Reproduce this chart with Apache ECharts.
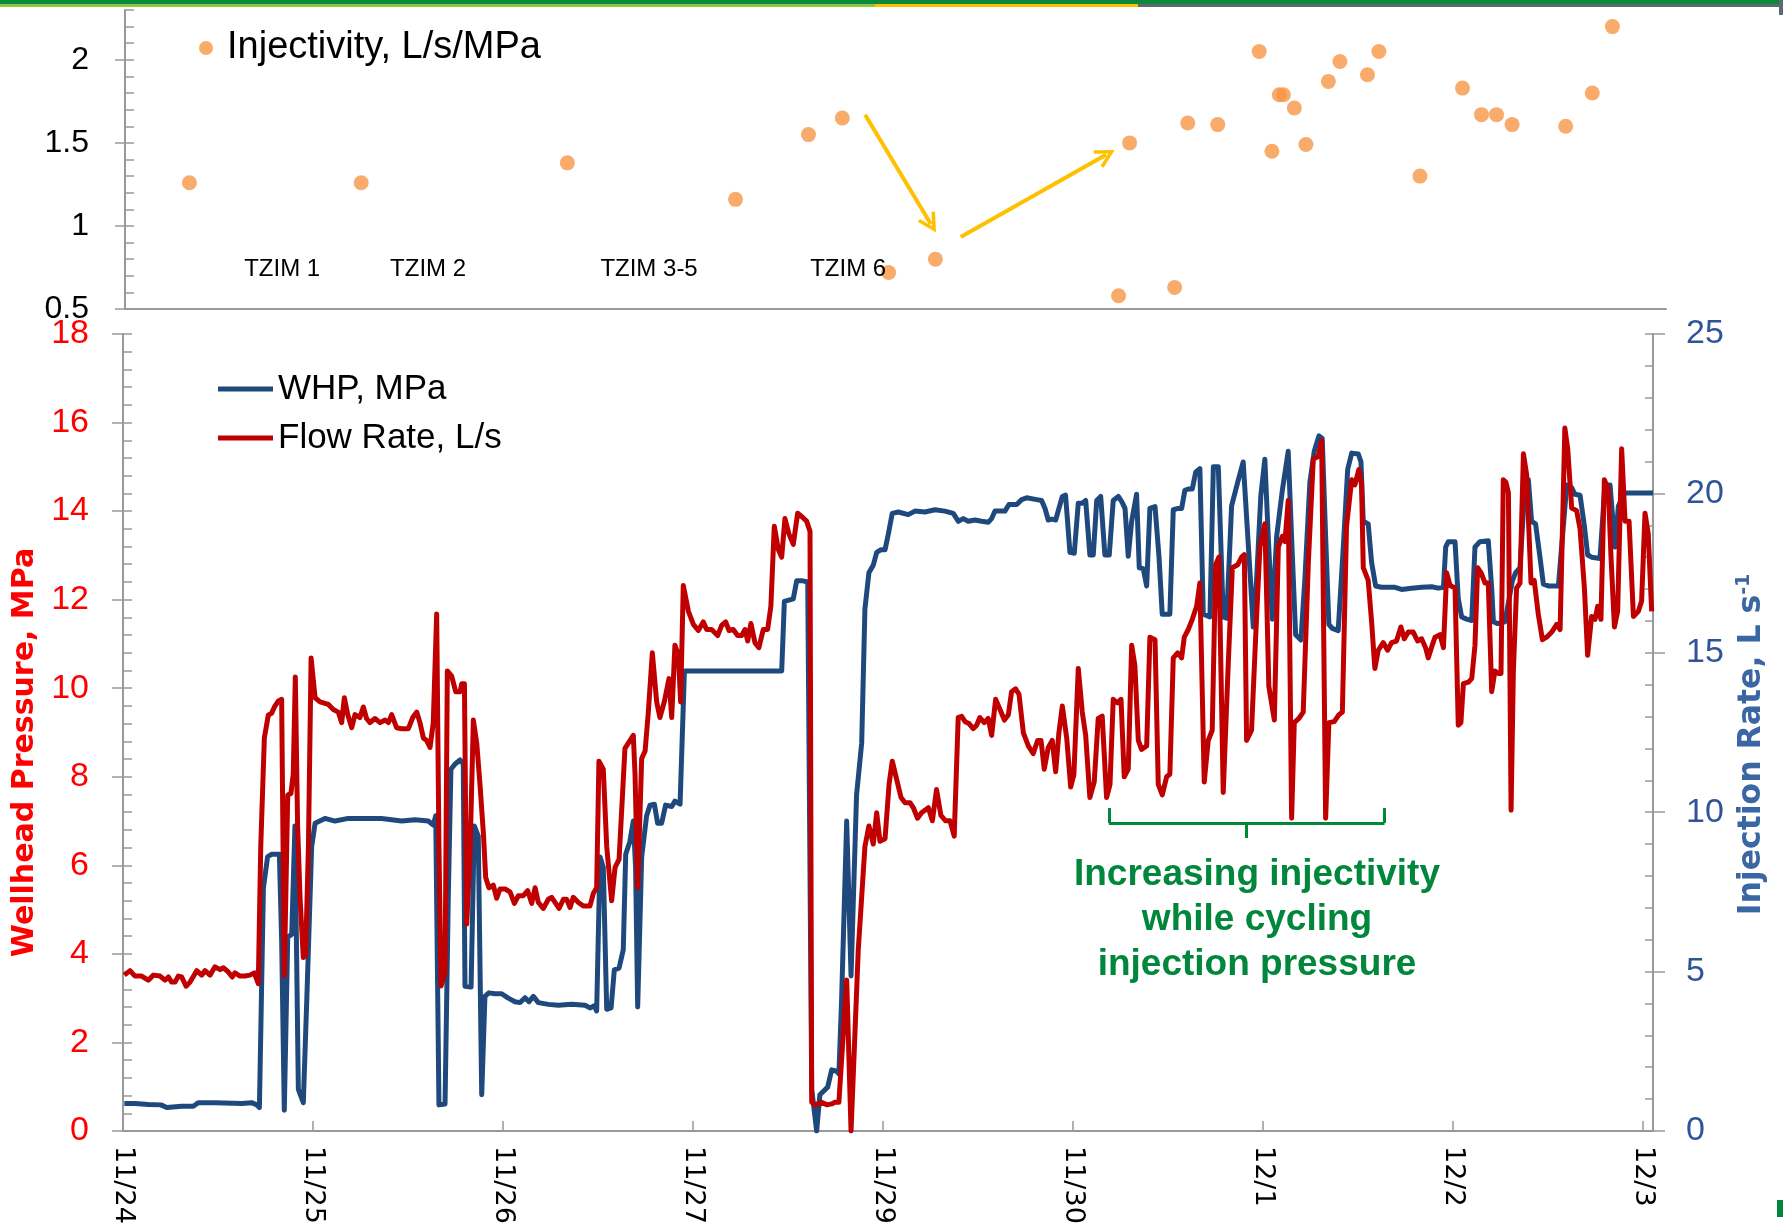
<!DOCTYPE html>
<html>
<head>
<meta charset="utf-8">
<title>Injectivity, WHP and flow rate</title>
<script src="https://cdn.jsdelivr.net/npm/echarts@6/dist/echarts.min.js"></script>
<style>
  html, body { margin: 0; padding: 0; background: #fff; }
  #chart { width: 1783px; height: 1226px; }
</style>
</head>
<body>
<div id="chart"></div>
<script>
// Date labels of the bottom axis (11/28 is skipped in the original)
const dayLabels = ['11/24', '11/25', '11/26', '11/27', '11/29', '11/30', '12/1', '12/2', '12/3'];
const injectivityTicks = [0.5, 1, 1.5, 2];

// Injectivity, L/s/MPa  [day, value]
const injectivityPoints = [
  [0.349, 1.26], [1.253, 1.26], [2.338, 1.38], [3.223, 1.16], [3.607, 1.55], [3.785, 1.65],
  [4.029, 0.72], [4.275, 0.8], [5.239, 0.58], [5.297, 1.5], [5.534, 0.63], [5.603, 1.62],
  [5.761, 1.61], [5.979, 2.05], [6.046, 1.45], [6.085, 1.79], [6.106, 1.79], [6.164, 1.71],
  [6.225, 1.49], [6.343, 1.87], [6.404, 1.99], [6.549, 1.91], [6.609, 2.05], [6.825, 1.3],
  [7.049, 1.83], [7.149, 1.67], [7.228, 1.67], [7.31, 1.61], [7.592, 1.6], [7.732, 1.8], [7.838, 2.2]
];

// WHP, MPa  [day, value]
const whpPoints = [
  [0.007, 0.62], [0.063, 0.62], [0.133, 0.6], [0.2, 0.59], [0.23, 0.53], [0.309, 0.56], [0.37, 0.56],
  [0.396, 0.64], [0.484, 0.64], [0.625, 0.62], [0.677, 0.64], [0.704, 0.59], [0.718, 0.53], [0.739, 5.49],
  [0.761, 6.19], [0.782, 6.25], [0.823, 6.25], [0.835, 4.32], [0.849, 0.47], [0.867, 4.38], [0.888, 4.44],
  [0.905, 6.89], [0.923, 0.94], [0.949, 0.64], [0.967, 2.92], [0.993, 6.42], [1.011, 6.95], [1.063, 7.06],
  [1.116, 7.0], [1.186, 7.06], [1.361, 7.06], [1.467, 7.0], [1.537, 7.03], [1.607, 7.0], [1.633, 6.91],
  [1.646, 7.12], [1.663, 0.59], [1.695, 0.61], [1.712, 5.25], [1.726, 8.17], [1.748, 8.29], [1.774, 8.38],
  [1.791, 8.29], [1.8, 3.27], [1.832, 3.25], [1.849, 6.89], [1.87, 6.66], [1.888, 0.82], [1.905, 3.04],
  [1.926, 3.12], [1.958, 3.1], [1.993, 3.1], [2.028, 3.0], [2.063, 2.92], [2.09, 2.9], [2.116, 3.01],
  [2.137, 2.92], [2.16, 3.04], [2.186, 2.9], [2.239, 2.86], [2.291, 2.84], [2.362, 2.86], [2.432, 2.84],
  [2.458, 2.78], [2.481, 2.83], [2.493, 2.71], [2.511, 6.19], [2.528, 5.95], [2.546, 2.75], [2.569, 2.78],
  [2.586, 3.64], [2.611, 3.68], [2.633, 4.09], [2.646, 6.25], [2.668, 6.54], [2.686, 7.0], [2.698, 5.95],
  [2.709, 2.8], [2.73, 6.19], [2.756, 7.12], [2.774, 7.36], [2.797, 7.38], [2.814, 6.95], [2.835, 6.95],
  [2.856, 7.36], [2.888, 7.33], [2.905, 7.45], [2.932, 7.38], [2.955, 10.39], [3.467, 10.39], [3.481, 11.96],
  [3.528, 12.02], [3.546, 12.43], [3.572, 12.43], [3.604, 12.4], [3.625, 0.94], [3.651, 0.0], [3.668, 0.82],
  [3.709, 0.99], [3.73, 1.38], [3.756, 1.35], [3.768, 1.29], [3.782, 2.92], [3.809, 7.0], [3.832, 3.5],
  [3.861, 7.59], [3.888, 8.76], [3.905, 11.79], [3.926, 12.61], [3.949, 12.78], [3.967, 13.07], [3.99, 13.13],
  [4.011, 13.13], [4.028, 13.48], [4.049, 13.95], [4.081, 13.98], [4.133, 13.92], [4.168, 14.0], [4.221, 13.98],
  [4.274, 14.03], [4.326, 14.0], [4.37, 13.95], [4.397, 13.77], [4.423, 13.83], [4.449, 13.77], [4.484, 13.8],
  [4.519, 13.77], [4.554, 13.75], [4.572, 13.83], [4.589, 14.0], [4.642, 14.0], [4.663, 14.15], [4.704, 14.15],
  [4.73, 14.26], [4.756, 14.3], [4.809, 14.26], [4.835, 14.24], [4.853, 14.06], [4.87, 13.8], [4.888, 13.82],
  [4.909, 13.8], [4.926, 14.06], [4.944, 14.33], [4.961, 14.36], [4.984, 13.07], [5.007, 13.05], [5.028, 14.18],
  [5.049, 14.18], [5.067, 14.24], [5.089, 13.01], [5.107, 13.01], [5.125, 14.24], [5.146, 14.33], [5.168, 13.01],
  [5.191, 13.01], [5.212, 14.24], [5.239, 14.33], [5.256, 14.22], [5.274, 14.06], [5.291, 12.98], [5.309, 13.77],
  [5.335, 14.38], [5.349, 12.72], [5.37, 12.7], [5.388, 12.31], [5.405, 14.06], [5.432, 14.1], [5.453, 12.96],
  [5.47, 11.67], [5.51, 11.67], [5.528, 14.03], [5.554, 14.06], [5.572, 14.06], [5.589, 14.47], [5.607, 14.5],
  [5.628, 14.5], [5.646, 14.88], [5.668, 14.96], [5.686, 11.67], [5.721, 11.61], [5.739, 15.0], [5.765, 15.0],
  [5.791, 11.61], [5.809, 11.58], [5.835, 14.12], [5.867, 14.65], [5.896, 15.11], [5.932, 12.61], [5.949, 11.38],
  [5.967, 12.49], [5.989, 14.36], [6.01, 15.17], [6.028, 13.42], [6.049, 11.56], [6.072, 13.42], [6.102, 14.47],
  [6.133, 15.35], [6.154, 13.07], [6.172, 11.21], [6.2, 11.09], [6.221, 12.49], [6.247, 14.65], [6.27, 15.35],
  [6.295, 15.7], [6.312, 15.64], [6.33, 13.42], [6.347, 11.44], [6.365, 11.35], [6.396, 11.3], [6.423, 13.19],
  [6.446, 14.94], [6.467, 15.31], [6.502, 15.29], [6.516, 15.11], [6.528, 13.77], [6.554, 13.71], [6.572, 12.84],
  [6.593, 12.31], [6.624, 12.28], [6.695, 12.28], [6.73, 12.23], [6.782, 12.26], [6.835, 12.28], [6.888, 12.29],
  [6.923, 12.26], [6.95, 12.28], [6.962, 13.19], [6.976, 13.31], [7.011, 13.31], [7.028, 12.02], [7.046, 11.61],
  [7.072, 11.56], [7.099, 11.53], [7.116, 13.19], [7.142, 13.31], [7.186, 13.33], [7.204, 12.26], [7.213, 11.5],
  [7.235, 11.46], [7.274, 11.5], [7.313, 12.43], [7.33, 12.61], [7.353, 12.72], [7.379, 14.59], [7.397, 14.71],
  [7.414, 13.77], [7.435, 13.71], [7.458, 12.96], [7.476, 12.35], [7.502, 12.31], [7.555, 12.31], [7.599, 14.59],
  [7.625, 14.53], [7.642, 14.38], [7.669, 14.36], [7.692, 13.66], [7.709, 13.01], [7.73, 12.96], [7.774, 12.93],
  [7.8, 14.59], [7.827, 14.59], [7.853, 13.19], [7.871, 14.12], [7.906, 14.41], [7.976, 14.41], [8.053, 14.41]
];

// Flow Rate, L/s  [day, value]
const flowPoints = [
  [0.007, 4.89], [0.037, 5.03], [0.063, 4.86], [0.098, 4.86], [0.133, 4.73], [0.16, 4.89], [0.195, 4.86],
  [0.221, 4.73], [0.239, 4.83], [0.256, 4.67], [0.274, 4.67], [0.291, 4.86], [0.309, 4.83], [0.332, 4.54],
  [0.353, 4.67], [0.388, 5.03], [0.414, 4.89], [0.432, 5.03], [0.458, 4.89], [0.484, 5.15], [0.511, 5.06],
  [0.528, 5.12], [0.554, 4.99], [0.575, 4.83], [0.589, 4.96], [0.616, 4.86], [0.642, 4.86], [0.668, 4.89],
  [0.691, 4.96], [0.712, 4.62], [0.725, 8.92], [0.744, 12.33], [0.765, 13.05], [0.782, 13.1], [0.797, 13.3],
  [0.818, 13.49], [0.835, 13.54], [0.849, 4.87], [0.867, 10.54], [0.884, 10.59], [0.896, 11.19], [0.907, 14.24],
  [0.919, 9.57], [0.932, 7.3], [0.949, 5.44], [0.961, 5.52], [0.976, 8.92], [0.99, 14.84], [1.011, 13.59],
  [1.037, 13.46], [1.081, 13.38], [1.107, 13.22], [1.133, 13.14], [1.151, 12.81], [1.165, 13.59], [1.183, 13.06],
  [1.204, 12.65], [1.221, 13.06], [1.247, 12.97], [1.265, 13.3], [1.282, 12.94], [1.3, 12.81], [1.326, 12.94],
  [1.353, 12.81], [1.379, 12.89], [1.397, 12.81], [1.414, 13.06], [1.44, 12.65], [1.467, 12.62], [1.502, 12.62],
  [1.525, 12.97], [1.546, 13.14], [1.563, 12.81], [1.581, 12.33], [1.598, 12.25], [1.616, 12.03], [1.633, 12.81],
  [1.651, 16.22], [1.663, 8.92], [1.674, 4.55], [1.695, 4.95], [1.707, 14.43], [1.73, 14.27], [1.751, 13.78],
  [1.774, 13.78], [1.783, 14.03], [1.797, 14.03], [1.809, 6.49], [1.826, 8.6], [1.844, 12.89], [1.862, 12.16],
  [1.879, 10.87], [1.897, 9.33], [1.909, 7.95], [1.926, 7.63], [1.949, 7.71], [1.967, 7.3], [1.984, 7.59],
  [2.011, 7.59], [2.037, 7.5], [2.06, 7.14], [2.081, 7.38], [2.107, 7.38], [2.13, 7.54], [2.151, 7.14],
  [2.169, 7.63], [2.186, 7.17], [2.212, 6.98], [2.239, 7.27], [2.256, 7.33], [2.274, 7.17], [2.295, 6.98],
  [2.318, 7.27], [2.335, 7.27], [2.353, 7.01], [2.37, 7.33], [2.397, 7.17], [2.423, 7.06], [2.458, 7.06],
  [2.476, 7.46], [2.493, 7.63], [2.505, 11.6], [2.528, 11.35], [2.546, 8.92], [2.572, 7.22], [2.59, 8.27],
  [2.611, 8.52], [2.642, 12.0], [2.686, 12.41], [2.695, 11.19], [2.709, 7.63], [2.73, 11.68], [2.748, 11.92],
  [2.765, 13.14], [2.786, 15.0], [2.809, 13.46], [2.826, 12.97], [2.849, 13.46], [2.874, 14.19], [2.888, 12.97],
  [2.905, 15.24], [2.923, 14.92], [2.935, 13.46], [2.949, 17.11], [2.976, 16.3], [3.002, 15.89], [3.028, 15.7],
  [3.054, 15.97], [3.072, 15.73], [3.098, 15.73], [3.13, 15.54], [3.151, 15.86], [3.172, 15.97], [3.19, 15.7],
  [3.212, 15.73], [3.235, 15.54], [3.256, 15.54], [3.274, 15.73], [3.288, 15.37], [3.305, 15.92], [3.326, 15.32],
  [3.347, 15.16], [3.37, 15.73], [3.393, 15.73], [3.41, 16.46], [3.428, 18.97], [3.449, 18.24], [3.467, 18.0],
  [3.484, 19.21], [3.505, 18.73], [3.528, 18.4], [3.551, 19.38], [3.575, 19.26], [3.598, 19.13], [3.616, 18.81],
  [3.625, 0.9], [3.642, 0.82], [3.677, 0.9], [3.704, 0.82], [3.73, 0.85], [3.747, 0.9], [3.768, 0.9],
  [3.809, 4.74], [3.832, 0.0], [3.87, 5.68], [3.905, 8.92], [3.926, 9.57], [3.949, 9.0], [3.967, 9.98],
  [3.984, 9.09], [4.011, 9.17], [4.032, 10.87], [4.049, 11.6], [4.072, 11.03], [4.095, 10.46], [4.116, 10.3],
  [4.142, 10.3], [4.16, 10.14], [4.182, 9.81], [4.203, 9.98], [4.239, 10.14], [4.26, 9.73], [4.282, 10.71],
  [4.305, 9.9], [4.33, 9.73], [4.353, 9.73], [4.375, 9.25], [4.396, 12.97], [4.414, 13.01], [4.432, 12.84],
  [4.453, 12.78], [4.475, 12.62], [4.493, 12.73], [4.51, 12.97], [4.533, 12.81], [4.554, 12.94], [4.572, 12.41],
  [4.593, 13.54], [4.616, 13.22], [4.639, 12.89], [4.66, 13.06], [4.677, 13.78], [4.698, 13.87], [4.716, 13.7],
  [4.739, 12.49], [4.765, 12.08], [4.791, 11.84], [4.814, 12.25], [4.832, 12.25], [4.849, 11.35], [4.87, 12.03],
  [4.891, 12.25], [4.909, 11.27], [4.926, 12.49], [4.944, 13.33], [4.967, 12.33], [4.988, 10.79], [5.005, 11.19],
  [5.028, 14.51], [5.049, 13.14], [5.067, 12.41], [5.089, 10.46], [5.112, 10.95], [5.133, 12.94], [5.154, 13.01],
  [5.177, 10.46], [5.195, 10.87], [5.212, 13.54], [5.235, 13.43], [5.253, 13.54], [5.27, 11.11], [5.291, 11.35],
  [5.309, 15.24], [5.326, 14.6], [5.344, 12.25], [5.361, 11.97], [5.388, 12.08], [5.405, 15.49], [5.432, 15.41],
  [5.449, 10.87], [5.47, 10.54], [5.493, 11.11], [5.51, 11.19], [5.528, 14.84], [5.551, 15.0], [5.572, 14.84],
  [5.586, 15.49], [5.607, 15.73], [5.628, 16.05], [5.651, 16.46], [5.668, 17.19], [5.691, 10.95], [5.712, 12.25],
  [5.733, 12.57], [5.751, 17.76], [5.768, 18.0], [5.791, 10.62], [5.817, 14.6], [5.839, 17.67], [5.867, 17.76],
  [5.888, 18.0], [5.902, 18.08], [5.914, 12.25], [5.94, 12.57], [5.961, 15.41], [5.984, 18.32], [6.01, 19.05],
  [6.031, 13.95], [6.06, 12.89], [6.081, 18.32], [6.102, 18.65], [6.116, 18.49], [6.133, 19.78], [6.151, 9.81],
  [6.165, 12.81], [6.189, 12.94], [6.212, 13.14], [6.239, 17.84], [6.265, 21.08], [6.291, 21.16], [6.309, 21.65],
  [6.33, 9.81], [6.347, 12.81], [6.375, 12.84], [6.4, 13.06], [6.418, 13.14], [6.44, 18.97], [6.467, 20.43],
  [6.484, 20.27], [6.505, 20.75], [6.519, 20.27], [6.528, 17.67], [6.554, 17.27], [6.572, 15.97], [6.589, 14.51],
  [6.607, 15.08], [6.633, 15.32], [6.656, 15.08], [6.677, 15.32], [6.703, 15.37], [6.726, 15.81], [6.744, 15.44],
  [6.765, 15.65], [6.791, 15.65], [6.814, 15.37], [6.835, 15.44], [6.856, 15.16], [6.87, 14.84], [6.891, 15.24],
  [6.906, 15.49], [6.932, 15.57], [6.95, 15.16], [6.967, 17.51], [6.985, 17.11], [7.011, 17.03], [7.028, 12.73],
  [7.042, 12.81], [7.055, 14.03], [7.081, 14.08], [7.099, 14.19], [7.116, 15.24], [7.13, 17.67], [7.148, 17.51],
  [7.169, 17.19], [7.186, 17.19], [7.204, 13.78], [7.221, 14.43], [7.239, 14.35], [7.253, 14.35], [7.265, 20.43],
  [7.279, 20.35], [7.292, 20.02], [7.306, 10.06], [7.318, 14.43], [7.335, 17.03], [7.353, 17.19], [7.371, 21.24],
  [7.388, 20.59], [7.411, 17.19], [7.428, 17.27], [7.449, 16.22], [7.471, 15.41], [7.493, 15.49], [7.52, 15.65],
  [7.546, 15.89], [7.564, 15.73], [7.589, 22.05], [7.604, 21.4], [7.625, 19.54], [7.651, 19.46], [7.669, 18.89],
  [7.692, 17.03], [7.709, 14.92], [7.73, 16.14], [7.748, 16.05], [7.762, 16.46], [7.779, 16.05], [7.797, 20.43],
  [7.818, 20.11], [7.832, 18.0], [7.85, 15.81], [7.867, 16.3], [7.888, 21.4], [7.906, 19.13], [7.927, 19.13],
  [7.95, 16.14], [7.976, 16.3], [7.993, 16.62], [8.011, 19.38], [8.028, 18.73], [8.046, 16.3]
];

// Test interval labels in the injectivity panel
const tzimNames = ['TZIM 1', 'TZIM 2', 'TZIM 3-5', 'TZIM 6'];
const tzimDays = [0.837, 1.605, 2.768, 3.816];
const tzimLevel = 0.74;

// Yellow arrows [day, injectivity] start -> end
const arrowLines = [
  [[3.905, 1.669], [4.251, 1.012]],
  [[4.408, 0.934], [5.173, 1.428]]
];

// Green bracket under the cycling period [day, L/s]
const bracketLines = [
  [[5.189, 10.13], [5.189, 9.66]],
  [[5.189, 9.66], [6.64, 9.66]],
  [[6.64, 9.66], [6.64, 10.13]],
  [[5.911, 9.66], [5.911, 9.19]]
];

// Colors
const blue = '#1F497D';
const red = '#C00000';
const orange = '#F79646';
const axisGray = '#999999';
const rightBlue = '#2F5597';
const green = '#00873C';
const baseFont = 'Liberation Sans';

const tickStyle = { color: axisGray, width: 1.5 };
const chevron = 'path://M0,10 L5,0 L10,10 L8.4,10.8 L5,4 L1.6,10.8 Z';

const chart = echarts.init(document.getElementById('chart'));

const option = {
  animation: false,
  backgroundColor: '#fff',
  grid: [
    { left: 125, right: 117, top: 10, bottom: 917, outerBoundsMode: 'none' },
    { left: 123, right: 130, top: 334, bottom: 95, outerBoundsMode: 'none' }
  ],
  legend: [
    {
      data: ['Injectivity, L/s/MPa'],
      left: 199, top: 26, padding: 0,
      icon: 'circle', itemWidth: 14, itemHeight: 14,
      selectedMode: false,
      textStyle: { fontFamily: baseFont, fontSize: 38, lineHeight: 44, color: '#000', padding: [0, 0, 0, 9] }
    },
    {
      data: ['WHP, MPa', 'Flow Rate, L/s'],
      orient: 'vertical', left: 218, top: 369, padding: 0,
      icon: 'rect', itemWidth: 55, itemHeight: 5, itemGap: 9,
      selectedMode: false,
      textStyle: { fontFamily: baseFont, fontSize: 35, lineHeight: 40, color: '#000' }
    }
  ],
  xAxis: [
    {
      gridIndex: 0, type: 'value', min: 0.01, max: 8.12,
      axisLine: { onZero: false, lineStyle: { color: axisGray, width: 2 } },
      axisTick: { show: false }, axisLabel: { show: false }, splitLine: { show: false }
    },
    {
      gridIndex: 1, type: 'value', min: 0, max: 8.053, interval: 1,
      axisLine: { onZero: false, lineStyle: { color: axisGray, width: 2 } },
      axisTick: { inside: true, length: 10, lineStyle: tickStyle },
      axisLabel: {
        rotate: -90, margin: 15, fontFamily: 'DejaVu Sans', fontSize: 27, color: '#000',
        formatter: v => (Number.isInteger(v) ? dayLabels[v] : '')
      },
      splitLine: { show: false }
    }
  ],
  yAxis: [
    // 0: injectivity axis
    {
      gridIndex: 0, type: 'value', position: 'left', min: 0.5, max: 2.3, interval: 0.1,
      axisLine: { show: true, lineStyle: { color: axisGray, width: 2 } },
      axisTick: { inside: true, length: 9, lineStyle: tickStyle },
      axisLabel: { customValues: injectivityTicks, margin: 36, fontFamily: baseFont, fontSize: 32, color: '#000' },
      splitLine: { show: false }
    },
    // 1: outer half of the major ticks
    {
      gridIndex: 0, type: 'value', position: 'left', min: 0.5, max: 2.3,
      axisLine: { show: false }, axisLabel: { show: false }, splitLine: { show: false },
      axisTick: { show: true, length: 10, customValues: injectivityTicks, lineStyle: tickStyle }
    },
    // 2: wellhead pressure
    {
      gridIndex: 1, type: 'value', position: 'left', min: 0, max: 18, interval: 2,
      name: 'Wellhead Pressure, MPa', nameLocation: 'middle', nameRotate: 90, nameGap: 72,
      nameTextStyle: { color: '#FF0000', fontFamily: 'DejaVu Sans', fontWeight: 'bold', fontSize: 30, padding: [0, 40, 0, 0] },
      axisLine: { show: true, lineStyle: { color: axisGray, width: 2 } },
      axisTick: { inside: true, length: 9, lineStyle: tickStyle },
      minorTick: { show: true, splitNumber: 5, length: 9, lineStyle: tickStyle },
      axisLabel: { margin: 34, fontFamily: baseFont, fontSize: 34, color: '#FF0000' },
      splitLine: { show: false }, minorSplitLine: { show: false }
    },
    // 3: injection rate
    {
      gridIndex: 1, type: 'value', position: 'right', min: 0, max: 25, interval: 5,
      name: 'Injection Rate, L s{sup|-1}', nameLocation: 'middle', nameRotate: 90, nameGap: 82,
      nameTextStyle: {
        color: '#3A66A3', fontFamily: 'DejaVu Sans', fontWeight: 'bold', fontSize: 31.5, padding: [0, 24, 0, 0],
        rich: { sup: { color: '#3A66A3', fontFamily: 'DejaVu Sans', fontWeight: 'bold', fontSize: 19, verticalAlign: 'top', padding: [0, 0, 14, 0] } }
      },
      axisLine: { show: true, lineStyle: { color: axisGray, width: 2 } },
      axisTick: { inside: true, length: 8, lineStyle: tickStyle },
      minorTick: { show: true, splitNumber: 5, length: 8, lineStyle: tickStyle },
      axisLabel: { margin: 33, fontFamily: baseFont, fontSize: 34, color: rightBlue },
      splitLine: { show: false }, minorSplitLine: { show: false }
    },
    // 4, 5: outer half of the major ticks
    {
      gridIndex: 1, type: 'value', position: 'left', min: 0, max: 18, interval: 2,
      axisLine: { show: false }, axisLabel: { show: false }, splitLine: { show: false },
      axisTick: { show: true, length: 11, lineStyle: tickStyle }
    },
    {
      gridIndex: 1, type: 'value', position: 'right', min: 0, max: 25, interval: 5,
      axisLine: { show: false }, axisLabel: { show: false }, splitLine: { show: false },
      axisTick: { show: true, length: 12, lineStyle: tickStyle }
    }
  ],
  series: [
    {
      name: 'Injectivity, L/s/MPa',
      type: 'scatter',
      xAxisIndex: 0, yAxisIndex: 0,
      data: injectivityPoints,
      symbolSize: 15,
      itemStyle: { color: orange },
      markLine: {
        silent: true,
        symbol: ['none', chevron],
        symbolSize: [20, 20],
        lineStyle: { color: '#FFC000', width: 4, type: 'solid' },
        label: { show: false },
        data: arrowLines.map(([a, b]) => [{ coord: a }, { coord: b }])
      },
      markPoint: {
        silent: true,
        symbol: 'circle', symbolSize: 1,
        itemStyle: { color: 'rgba(0,0,0,0)' },
        label: { show: true, position: 'inside', formatter: p => p.name, fontFamily: baseFont, fontSize: 24, color: '#000' },
        data: tzimNames.map((n, i) => ({ name: n, coord: [tzimDays[i], tzimLevel] }))
      }
    },
    {
      name: 'WHP, MPa',
      type: 'line',
      xAxisIndex: 1, yAxisIndex: 2,
      data: whpPoints,
      showSymbol: false,
      lineStyle: { color: blue, width: 5, join: 'round' },
      itemStyle: { color: blue }
    },
    {
      name: 'Flow Rate, L/s',
      type: 'line',
      xAxisIndex: 1, yAxisIndex: 3,
      data: flowPoints,
      showSymbol: false,
      lineStyle: { color: red, width: 5, join: 'round' },
      itemStyle: { color: red },
      markLine: {
        silent: true,
        symbol: ['none', 'none'],
        lineStyle: { color: green, width: 3, type: 'solid' },
        label: { show: false },
        data: bracketLines.map(([a, b]) => [{ coord: a }, { coord: b }])
      }
    }
  ],
  graphic: [
    // slide header stripe
    { type: 'rect', shape: { x: 0, y: 0, width: 1783, height: 4 }, style: { fill: '#0B8A3E' }, silent: true },
    { type: 'rect', shape: { x: 0, y: 4, width: 875, height: 3 }, style: { fill: '#8DC63F' }, silent: true },
    { type: 'rect', shape: { x: 875, y: 4, width: 263, height: 3 }, style: { fill: '#FFC000' }, silent: true },
    { type: 'rect', shape: { x: 1138, y: 4, width: 645, height: 3 }, style: { fill: '#5E6A71' }, silent: true },
    { type: 'rect', shape: { x: 1779, y: 0, width: 4, height: 15 }, style: { fill: '#5E6A71' }, silent: true },
    { type: 'rect', shape: { x: 1777, y: 1200, width: 6, height: 17 }, style: { fill: '#00873C' }, silent: true },
    {
      type: 'text', x: 1257, y: 852, silent: true,
      style: {
        text: 'Increasing injectivity\nwhile cycling\ninjection pressure',
        align: 'center', verticalAlign: 'top',
        font: 'bold 37px "Liberation Sans"', lineHeight: 45, fill: green
      }
    }
  ]
};

chart.setOption(option);
</script>
</body>
</html>
